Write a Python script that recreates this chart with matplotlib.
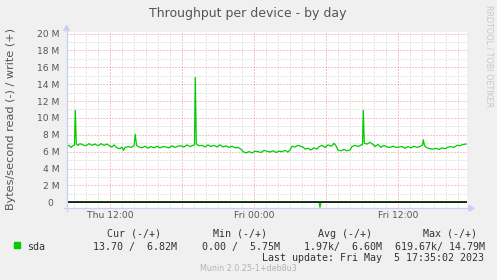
import matplotlib
matplotlib.use("Agg")
import matplotlib.pyplot as plt
from matplotlib.lines import Line2D
from matplotlib.patches import Polygon, Rectangle
from matplotlib.ticker import MultipleLocator, FixedLocator

# ---------------- data ----------------
# time in hours since Thu 00:00
write_hours = [8.417, 8.583, 8.75, 8.917, 9.042, 9.108, 9.192, 9.333, 9.5, 9.75,
               10.0, 10.25, 10.5, 10.75, 11.0, 11.25, 11.5, 11.75, 12.0, 12.167,
               12.333, 12.583, 12.833, 13.0, 13.125, 13.25, 13.5, 13.75, 14.0, 14.108,
               14.208, 14.417, 14.667, 14.917, 15.167, 15.417, 15.667, 15.917, 16.167, 16.417,
               16.667, 16.917, 17.167, 17.417, 17.667, 17.917, 18.167, 18.417, 18.667, 18.917,
               19.042, 19.108, 19.192, 19.417, 19.667, 19.917, 20.167, 20.417, 20.667, 20.917,
               21.167, 21.417, 21.667, 21.917, 22.167, 22.417, 22.667, 22.917, 23.083, 23.333,
               23.583, 23.833, 24.083, 24.333, 24.583, 24.833, 25.083, 25.333, 25.583, 25.833,
               26.083, 26.333, 26.583, 26.833, 27.0, 27.167, 27.417, 27.667, 27.917, 28.083,
               28.25, 28.5, 28.75, 29.0, 29.25, 29.417, 29.667, 29.917, 30.167, 30.417,
               30.583, 30.667, 30.833, 31.0, 31.25, 31.5, 31.75, 32.0, 32.167, 32.417,
               32.667, 32.917, 33.042, 33.108, 33.192, 33.417, 33.667, 33.917, 34.083, 34.333,
               34.583, 34.833, 35.083, 35.333, 35.583, 35.833, 36.083, 36.333, 36.583, 36.833,
               37.083, 37.333, 37.583, 37.833, 38.042, 38.108, 38.208, 38.417, 38.667, 38.917,
               39.167, 39.417, 39.667, 39.917, 40.167, 40.417, 40.667, 40.917, 41.167, 41.417,
               41.667]
write_mb = [6.6, 6.75, 6.5, 6.7, 6.8, 10.9, 6.9, 6.75, 6.95, 6.8,
            6.7, 6.95, 6.75, 6.9, 6.7, 6.95, 6.75, 6.9, 6.65, 6.55,
            6.8, 6.45, 6.35, 6.55, 6.15, 6.5, 6.6, 6.5, 6.7, 8.05,
            6.75, 6.55, 6.45, 6.65, 6.4, 6.6, 6.45, 6.65, 6.45, 6.6,
            6.55, 6.45, 6.7, 6.5, 6.65, 6.7, 6.55, 6.8, 6.6, 6.75,
            6.8, 14.8, 6.9, 6.7, 6.75, 6.55, 6.8, 6.6, 6.75, 6.55,
            6.8, 6.55, 6.7, 6.5, 6.65, 6.45, 6.5, 6.3, 6.0, 5.85,
            6.0, 5.85, 6.05, 6.0, 5.9, 6.15, 6.05, 5.95, 6.1, 5.9,
            6.05, 6.0, 6.15, 5.95, 6.2, 6.65, 6.55, 6.75, 6.6, 6.55,
            6.3, 6.4, 6.2, 6.45, 6.3, 6.6, 6.75, 6.5, 6.8, 6.65,
            6.8, 7.0, 6.7, 6.2, 6.1, 6.25, 6.1, 6.2, 6.6, 6.75,
            6.6, 6.8, 6.8, 10.9, 7.0, 6.9, 7.1, 6.85, 6.6, 6.85,
            6.5, 6.75, 6.55, 6.5, 6.65, 6.5, 6.55, 6.6, 6.4, 6.6,
            6.45, 6.65, 6.5, 6.6, 6.8, 7.4, 6.7, 6.45, 6.35, 6.3,
            6.4, 6.25, 6.45, 6.35, 6.55, 6.6, 6.5, 6.75, 6.7, 6.85,
            6.9]
read_hours = [8.417, 29.417, 29.5, 29.583, 41.667]
read_mb = [0.0, 0.0, -0.6, 0.0, 0.0]

y_ticks = [0, 2, 4, 6, 8, 10, 12, 14, 16, 18, 20]
y_labels = ["0  ", "2 M", "4 M", "6 M", "8 M", "10 M", "12 M", "14 M", "16 M", "18 M", "20 M"]
x_ticks = [12, 18, 24, 30, 36]
x_labels = ["Thu 12:00", "", "Fri 00:00", "", "Fri 12:00"]

title = "Throughput per device - by day"
ylabel = "Bytes/second read (-) / write (+)"
series_name = "sda"
headers = ["Cur (-/+)", "Min (-/+)", "Avg (-/+)", "Max (-/+)"]
values = ["13.70 /  6.82M", "0.00 /  5.75M", "1.97k/  6.60M", "619.67k/ 14.79M"]
last_update = "Last update: Fri May  5 17:35:02 2023"
footer = "Munin 2.0.25-1+deb8u3"
watermark = "RRDTOOL / TOBI OETIKER"

# ---------------- figure ----------------
W, H = 497, 280
plt.rcParams['lines.scale_dashes'] = False
fig = plt.figure(figsize=(W / 100, H / 100), dpi=100, facecolor="#f0f0f0")


def fx(px):
    return px / W


def fy(py):
    return 1 - py / H


ax_left, ax_right, ax_top, ax_bot = 67, 467, 32.3, 208
ax = fig.add_axes([fx(ax_left), fy(ax_bot), (ax_right - ax_left) / W, (ax_bot - ax_top) / H])
ax.set_facecolor("white")
for s in ax.spines.values():
    s.set_visible(False)

green = "#00cc00"
ax.plot(write_hours, write_mb, color=green, lw=0.9, zorder=3)
ax.plot(read_hours, read_mb, color=green, lw=0.9, zorder=3)
ax.axhline(0, color="black", lw=1.1, zorder=4)

ax.set_xlim(8.417, 41.75)
ax.set_ylim(-0.68, 20.15)

ax.yaxis.set_major_locator(FixedLocator(y_ticks))
ax.set_yticklabels(y_labels)
ax.yaxis.set_minor_locator(MultipleLocator(1))
ax.xaxis.set_major_locator(FixedLocator(x_ticks))
ax.set_xticklabels(x_labels)
ax.xaxis.set_minor_locator(MultipleLocator(1))

ax.tick_params(axis="both", which="both", length=0, labelsize=6.6, labelcolor="#555555")
ax.tick_params(axis="y", pad=5.5)
ax.tick_params(axis="x", pad=2.2)

ax.grid(which="minor", color="#cccccc", lw=0.72, dashes=(0.72, 1.44), zorder=1)
ax.grid(which="major", color="#f09090", lw=0.72, dashes=(0.72, 1.44), zorder=2)
ax.set_axisbelow(True)

# axes lines with arrows
axis_col = "#c8d0f8"
fig.add_artist(Line2D([fx(66.5), fx(66.5)], [fy(211), fy(29)], color=axis_col, lw=0.9))
fig.add_artist(Line2D([fx(64), fx(470)], [fy(208.3), fy(208.3)], color=axis_col, lw=0.9))
fig.add_artist(Polygon([[fx(63.8), fy(30.5)], [fx(69.3), fy(30.5)], [fx(66.5), fy(25.5)]],
                       closed=True, color=axis_col, transform=fig.transFigure))
fig.add_artist(Polygon([[fx(469), fy(205.3)], [fx(469), fy(211.3)], [fx(474), fy(208.3)]],
                       closed=True, color=axis_col, transform=fig.transFigure))

# texts
fig.text(fx(248), fy(17.5), title, ha="center", va="baseline", fontsize=9, color="#555555")
fig.text(fx(11), fy(119.5), ylabel, ha="center", va="center", rotation=90, fontsize=8.1,
         color="#555555")
fig.text(fx(488.5), fy(56.5), watermark, ha="center", va="center", rotation=270, fontsize=5.8,
         color="#c8c8c8")
fig.text(fx(248.3), fy(268.3), footer, ha="center", va="center", fontsize=5.8, color="#b4b4b4")

mono = dict(family="DejaVu Sans Mono", fontsize=7.2, color="#333333", va="baseline", ha="left")
for hx, h in zip([107.3, 213.3, 318.3, 423.3], headers):
    fig.text(fx(hx), fy(236.9), h, **mono)
fig.text(fx(27), fy(249.6), series_name, **mono)
for vx, v in zip([93.3, 201.7, 304.3, 395], values):
    fig.text(fx(vx), fy(249.6), v, **mono)
fig.text(fx(261.7), fy(260.9), last_update, **mono)

fig.add_artist(Rectangle((fx(14), fy(248.3)), 6 / W, 6 / H, color=green,
                         transform=fig.transFigure))

fig.savefig("out.png", dpi=100, facecolor=fig.get_facecolor())
